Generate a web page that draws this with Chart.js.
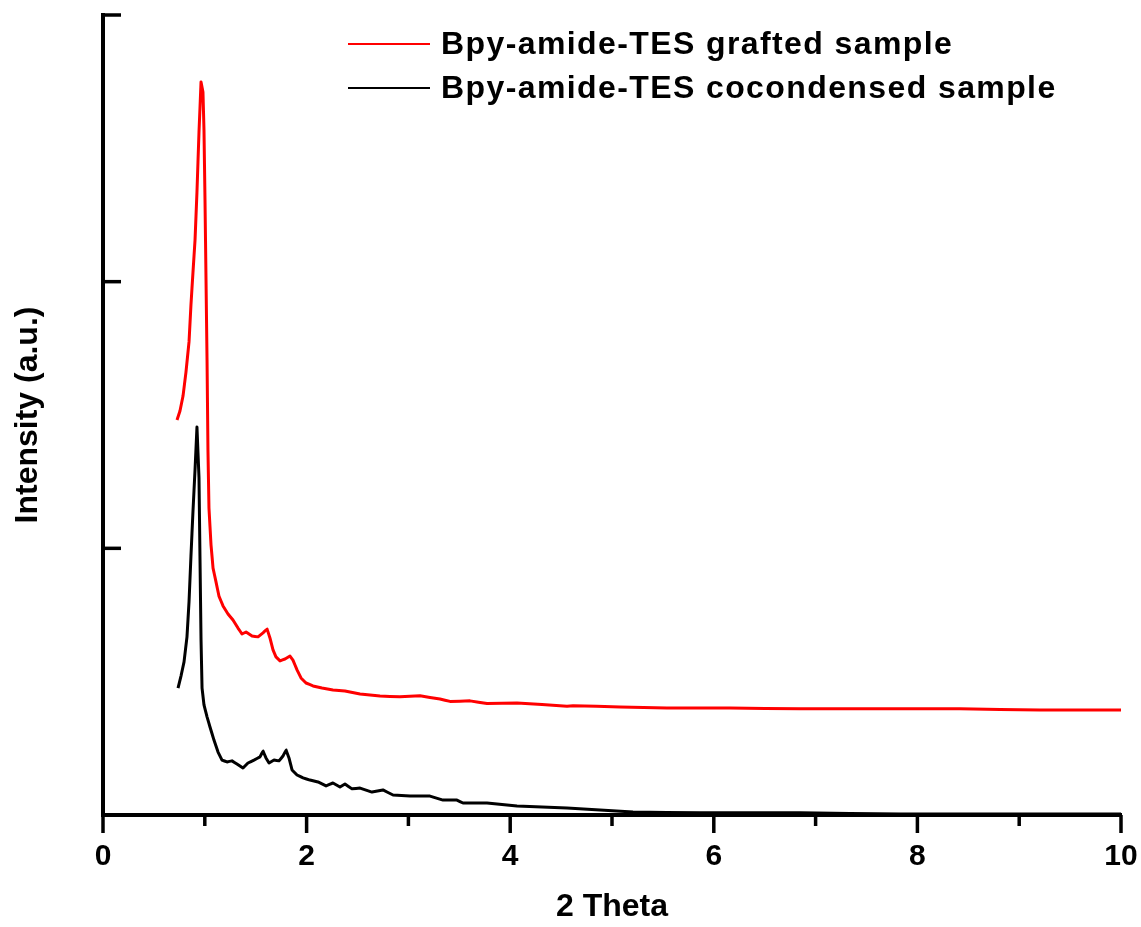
<!DOCTYPE html>
<html>
<head>
<meta charset="utf-8">
<title>XRD</title>
<script src="https://cdn.jsdelivr.net/npm/chart.js@4.4.1/dist/chart.umd.min.js"></script>
<style>
  html, body { margin: 0; padding: 0; background: #fff; }
  #wrap { width: 1141px; height: 927px; position: relative; }
</style>
</head>
<body>
<div id="wrap"><canvas id="xrdChart"></canvas></div>
<script>
// grafted sample (red)
var graftedX = [0.727, 0.756, 0.786, 0.815, 0.845, 0.864, 0.884, 0.904, 0.923, 0.943, 0.963, 0.982, 0.992, 1.002, 1.012, 1.022, 1.031, 1.041, 1.061, 1.081, 1.110, 1.139, 1.179, 1.228, 1.277, 1.326, 1.365, 1.405, 1.464, 1.523, 1.572, 1.611, 1.640, 1.670, 1.699, 1.739, 1.788, 1.837, 1.866, 1.906, 1.945, 1.994, 2.063, 2.151, 2.259, 2.377, 2.525, 2.721, 2.917, 3.114, 3.310, 3.409, 3.605, 3.772, 4.067, 4.558, 4.617, 5.079, 5.540, 6.159, 6.847, 7.633, 8.418, 9.204, 10];
var graftedY = [1.481, 1.515, 1.571, 1.661, 1.774, 1.913, 2.036, 2.156, 2.336, 2.561, 2.749, 2.711, 2.569, 2.306, 2.006, 1.706, 1.369, 1.151, 1.013, 0.926, 0.874, 0.821, 0.784, 0.754, 0.731, 0.701, 0.679, 0.686, 0.671, 0.668, 0.683, 0.698, 0.664, 0.619, 0.593, 0.578, 0.585, 0.596, 0.581, 0.544, 0.514, 0.495, 0.484, 0.476, 0.469, 0.465, 0.454, 0.446, 0.443, 0.447, 0.435, 0.426, 0.428, 0.418, 0.420, 0.408, 0.410, 0.405, 0.401, 0.401, 0.398, 0.398, 0.398, 0.394, 0.394];

// cocondensed sample (black)
var cocondX = [0.737, 0.766, 0.796, 0.825, 0.845, 0.864, 0.884, 0.904, 0.923, 0.943, 0.953, 0.963, 0.973, 0.992, 1.022, 1.051, 1.090, 1.130, 1.169, 1.218, 1.267, 1.316, 1.375, 1.424, 1.483, 1.542, 1.572, 1.601, 1.631, 1.680, 1.729, 1.768, 1.798, 1.827, 1.857, 1.906, 1.965, 2.033, 2.112, 2.191, 2.259, 2.328, 2.377, 2.446, 2.525, 2.642, 2.750, 2.849, 3.016, 3.212, 3.340, 3.477, 3.536, 3.674, 3.772, 4.067, 4.558, 5.206, 5.864, 6.847, 7.829, 8.811, 10];
var cocondY = [0.476, 0.521, 0.574, 0.668, 0.799, 0.971, 1.140, 1.294, 1.455, 1.264, 0.956, 0.656, 0.476, 0.413, 0.368, 0.330, 0.281, 0.236, 0.206, 0.199, 0.203, 0.191, 0.176, 0.195, 0.206, 0.218, 0.240, 0.214, 0.195, 0.206, 0.203, 0.221, 0.244, 0.214, 0.169, 0.150, 0.139, 0.131, 0.124, 0.109, 0.120, 0.105, 0.116, 0.098, 0.101, 0.086, 0.094, 0.075, 0.071, 0.071, 0.056, 0.056, 0.045, 0.045, 0.045, 0.034, 0.026, 0.011, 0.008, 0.008, 0.004, 0.004, 0.004];

var seriesLabels = ["Bpy-amide-TES grafted sample", "Bpy-amide-TES cocondensed sample"];
var xTitle = "2 Theta";
var yTitle = "Intensity (a.u.)";

function toPoints(xs, ys) {
  return xs.map(function (x, i) { return { x: x, y: ys[i] }; });
}

var FONT = "'Liberation Sans', Arial, sans-serif";

// ticks drawn by hand: y ticks point inward, x axis has long/short ticks
var tickMarks = {
  id: 'tickMarks',
  afterDraw: function (chart) {
    var ctx = chart.ctx, area = chart.chartArea;
    var xs = chart.scales.x, ys = chart.scales.y;
    ctx.save();
    ctx.strokeStyle = '#000';
    ctx.lineWidth = 3.5;
    ys.ticks.forEach(function (t) {
      if (t.value === ys.min) return;
      var py = ys.getPixelForValue(t.value);
      ctx.beginPath();
      ctx.moveTo(area.left, py);
      ctx.lineTo(area.left + 18, py);
      ctx.stroke();
    });
    xs.ticks.forEach(function (t, i) {
      var px = xs.getPixelForValue(t.value);
      ctx.beginPath();
      ctx.moveTo(px, area.bottom);
      ctx.lineTo(px, area.bottom + 18);
      ctx.stroke();
      var next = xs.ticks[i + 1];
      if (next) {
        var mx = xs.getPixelForValue((t.value + next.value) / 2);
        ctx.beginPath();
        ctx.moveTo(mx, area.bottom);
        ctx.lineTo(mx, area.bottom + 11);
        ctx.stroke();
      }
    });
    ctx.restore();
  }
};

var plotLegend = {
  id: 'plotLegend',
  afterDraw: function (chart) {
    var ctx = chart.ctx;
    ctx.save();
    ctx.font = 'bold 32px ' + FONT;
    ctx.letterSpacing = '1.4px';
    ctx.textBaseline = 'middle';
    ctx.fillStyle = '#000';
    chart.data.datasets.forEach(function (ds, i) {
      var y = 44 + i * 44;
      ctx.strokeStyle = ds.borderColor;
      ctx.lineWidth = 2;
      ctx.beginPath();
      ctx.moveTo(348, y);
      ctx.lineTo(430, y);
      ctx.stroke();
      ctx.fillText(ds.label, 441, y + 1);
    });
    ctx.restore();
  }
};

var ctx = document.getElementById('xrdChart').getContext('2d');

var myChart = new Chart(ctx, {
  type: 'line',
  data: {
    datasets: [{
        label: seriesLabels[0],
        data: toPoints(graftedX, graftedY),
        borderColor: '#FF0000',
        backgroundColor: 'transparent',
        borderWidth: 3,
        borderJoinStyle: 'round',
        pointRadius: 0,
        tension: 0.0001,
        fill: false
      },
      {
        label: seriesLabels[1],
        data: toPoints(cocondX, cocondY),
        borderColor: '#000000',
        backgroundColor: 'transparent',
        borderWidth: 3,
        borderJoinStyle: 'round',
        pointRadius: 0,
        tension: 0.0001,
        fill: false
      }
    ]
  },
  options: {
    responsive: true,
    maintainAspectRatio: false,
    animation: false,
    layout: {
      padding: { top: 15, right: 20, bottom: 0, left: 0 }
    },
    plugins: {
      legend: { display: false },
      tooltip: { enabled: false }
    },
    scales: {
      x: {
        type: 'linear',
        min: 0,
        max: 10,
        ticks: {
          stepSize: 2,
          padding: 2,
          color: '#000',
          font: { family: FONT, size: 30, weight: 'bold' }
        },
        grid: { display: true, drawOnChartArea: false, drawTicks: true, tickLength: 22, color: 'rgba(0,0,0,0)' },
        border: { display: true, color: '#000', width: 4 },
        title: {
          display: true,
          text: xTitle,
          color: '#000',
          font: { family: FONT, size: 32, weight: 'bold', lineHeight: 1 },
          padding: { top: 0, bottom: 4 }
        },
        afterFit: function (scale) { scale.height = 112; }
      },
      y: {
        min: 0,
        max: 3,
        ticks: { stepSize: 1, display: false },
        grid: { display: false, drawTicks: false },
        border: { display: true, color: '#000', width: 4 },
        title: {
          display: true,
          text: yTitle,
          color: '#000',
          font: { family: FONT, size: 32, weight: 'bold', lineHeight: 1 },
          padding: { top: 12, bottom: 0 }
        },
        afterFit: function (scale) { scale.width = 103; }
      }
    }
  },
  plugins: [tickMarks, plotLegend]
});
</script>
</body>
</html>
